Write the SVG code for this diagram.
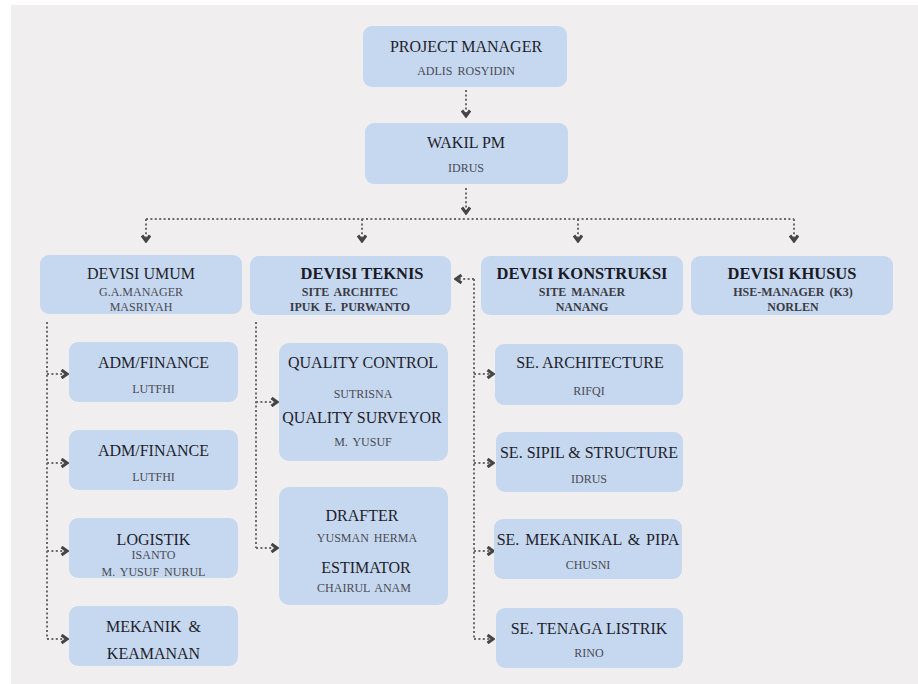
<svg xmlns="http://www.w3.org/2000/svg" width="918" height="684" viewBox="0 0 918 684">
<defs>
<style>
.box{fill:#c6d8ef;}
.t{font-family:"Liberation Serif","Times New Roman",serif;font-size:16px;fill:#1e1e2c;text-anchor:middle;}
.tb{font-family:"Liberation Serif","Times New Roman",serif;font-size:16.5px;font-weight:bold;fill:#1a1a26;text-anchor:middle;}
.n{font-family:"Liberation Serif","Times New Roman",serif;font-size:12px;fill:#4a4a54;text-anchor:middle;word-spacing:2px;}
.nb{font-family:"Liberation Serif","Times New Roman",serif;font-size:12px;font-weight:bold;fill:#3a3a44;text-anchor:middle;word-spacing:2px;}
.c{fill:none;stroke:#6a6a6a;stroke-width:2;stroke-dasharray:2 2.4;}
</style>
<marker id="chev" viewBox="0 0 10 10" refX="8" refY="5" markerWidth="10" markerHeight="10" markerUnits="userSpaceOnUse" orient="auto">
<path d="M2.5,1 L8,5 L2.5,9" fill="none" stroke="#454545" stroke-width="3"/>
</marker>
</defs>
<rect x="0" y="0" width="918" height="684" fill="#ffffff"/>
<rect x="11" y="5" width="907" height="679" fill="#f0eeee"/>

<g id="connectors">
<line class="c" x1="466" y1="90" x2="466" y2="116" marker-end="url(#chev)"/>
<line class="c" x1="466" y1="188" x2="466" y2="213" marker-end="url(#chev)"/>
<line class="c" x1="146" y1="219" x2="794" y2="219"/>
<line class="c" x1="146" y1="219" x2="146" y2="241" marker-end="url(#chev)"/>
<line class="c" x1="362" y1="219" x2="362" y2="241" marker-end="url(#chev)"/>
<line class="c" x1="578" y1="219" x2="578" y2="241" marker-end="url(#chev)"/>
<line class="c" x1="794" y1="219" x2="794" y2="241" marker-end="url(#chev)"/>

<line class="c" x1="47" y1="322" x2="47" y2="639"/>
<line class="c" x1="47" y1="374" x2="67" y2="374" marker-end="url(#chev)"/>
<line class="c" x1="47" y1="463" x2="67" y2="463" marker-end="url(#chev)"/>
<line class="c" x1="47" y1="551" x2="67" y2="551" marker-end="url(#chev)"/>
<line class="c" x1="47" y1="639" x2="67" y2="639" marker-end="url(#chev)"/>

<line class="c" x1="256" y1="322" x2="256" y2="548"/>
<line class="c" x1="256" y1="402" x2="277" y2="402" marker-end="url(#chev)"/>
<line class="c" x1="256" y1="548" x2="277" y2="548" marker-end="url(#chev)"/>

<line class="c" x1="474" y1="279" x2="474" y2="639"/>
<line class="c" x1="474" y1="279" x2="456" y2="279" marker-end="url(#chev)"/>
<line class="c" x1="474" y1="374" x2="493" y2="374" marker-end="url(#chev)"/>
<line class="c" x1="474" y1="463" x2="493" y2="463" marker-end="url(#chev)"/>
<line class="c" x1="474" y1="551" x2="493" y2="551" marker-end="url(#chev)"/>
<line class="c" x1="474" y1="639" x2="493" y2="639" marker-end="url(#chev)"/>
</g>

<g id="project-manager">
<rect class="box" x="363" y="26" width="204" height="61" rx="9"/>
<text class="t" x="466" y="52">PROJECT MANAGER</text>
<text class="n" x="466" y="75">ADLIS ROSYIDIN</text>
</g>
<g id="wakil-pm">
<rect class="box" x="365" y="123" width="203" height="61" rx="9"/>
<text class="t" x="466" y="148">WAKIL PM</text>
<text class="n" x="466" y="172">IDRUS</text>
</g>

<g id="devisi-umum">
<rect class="box" x="40" y="255" width="202" height="59" rx="9"/>
<text class="t" x="141" y="279">DEVISI UMUM</text>
<text class="n" x="141" y="296">G.A.MANAGER</text>
<text class="n" x="141" y="311">MASRIYAH</text>
</g>
<g id="devisi-teknis">
<rect class="box" x="250" y="256" width="201" height="59" rx="9"/>
<text class="tb" x="362" y="279">DEVISI TEKNIS</text>
<text class="nb" x="350" y="296">SITE ARCHITEC</text>
<text class="nb" x="350" y="311">IPUK E. PURWANTO</text>
</g>
<g id="devisi-konstruksi">
<rect class="box" x="481" y="256" width="202" height="59" rx="9"/>
<text class="tb" x="582" y="279">DEVISI KONSTRUKSI</text>
<text class="nb" x="582" y="296">SITE MANAER</text>
<text class="nb" x="582" y="311">NANANG</text>
</g>
<g id="devisi-khusus">
<rect class="box" x="691" y="256" width="202" height="59" rx="9"/>
<text class="tb" x="792" y="279">DEVISI KHUSUS</text>
<text class="nb" x="793" y="296">HSE-MANAGER (K3)</text>
<text class="nb" x="793" y="311">NORLEN</text>
</g>

<g id="adm-finance-1">
<rect class="box" x="69" y="342" width="169" height="60" rx="9"/>
<text class="t" x="153.5" y="368">ADM/FINANCE</text>
<text class="n" x="153.5" y="393">LUTFHI</text>
</g>
<g id="adm-finance-2">
<rect class="box" x="69" y="430" width="169" height="60" rx="9"/>
<text class="t" x="153.5" y="456">ADM/FINANCE</text>
<text class="n" x="153.5" y="481">LUTFHI</text>
</g>
<g id="logistik">
<rect class="box" x="69" y="518" width="169" height="60" rx="9"/>
<text class="t" x="153.5" y="545">LOGISTIK</text>
<text class="n" x="153.5" y="559">ISANTO</text>
<text class="n" x="153.5" y="576">M. YUSUF NURUL</text>
</g>
<g id="mekanik-keamanan">
<rect class="box" x="69" y="606" width="169" height="60" rx="9"/>
<text class="t" x="153.5" y="632" style="word-spacing:3px">MEKANIK &amp;</text>
<text class="t" x="153.5" y="659">KEAMANAN</text>
</g>

<g id="quality">
<rect class="box" x="279" y="343" width="169" height="118" rx="10"/>
<text class="t" x="363" y="368">QUALITY CONTROL</text>
<text class="n" x="363" y="398">SUTRISNA</text>
<text class="t" x="362" y="423">QUALITY SURVEYOR</text>
<text class="n" x="363" y="446">M. YUSUF</text>
</g>
<g id="drafter-estimator">
<rect class="box" x="279" y="487" width="169" height="118" rx="10"/>
<text class="t" x="362" y="521">DRAFTER</text>
<text class="n" x="367" y="542">YUSMAN HERMA</text>
<text class="t" x="366" y="573">ESTIMATOR</text>
<text class="n" x="364" y="592">CHAIRUL ANAM</text>
</g>

<g id="se-architecture">
<rect class="box" x="495" y="344" width="188" height="61" rx="9"/>
<text class="t" x="590" y="368">SE. ARCHITECTURE</text>
<text class="n" x="589" y="395">RIFQI</text>
</g>
<g id="se-sipil">
<rect class="box" x="496" y="432" width="187" height="60" rx="9"/>
<text class="t" x="589" y="458">SE. SIPIL &amp; STRUCTURE</text>
<text class="n" x="589" y="483">IDRUS</text>
</g>
<g id="se-mekanikal">
<rect class="box" x="494" y="519" width="188" height="60" rx="9"/>
<text class="t" x="588" y="545" style="word-spacing:2px">SE. MEKANIKAL &amp; PIPA</text>
<text class="n" x="588" y="569">CHUSNI</text>
</g>
<g id="se-listrik">
<rect class="box" x="496" y="608" width="187" height="60" rx="9"/>
<text class="t" x="589" y="634">SE. TENAGA LISTRIK</text>
<text class="n" x="589" y="657">RINO</text>
</g>
</svg>
